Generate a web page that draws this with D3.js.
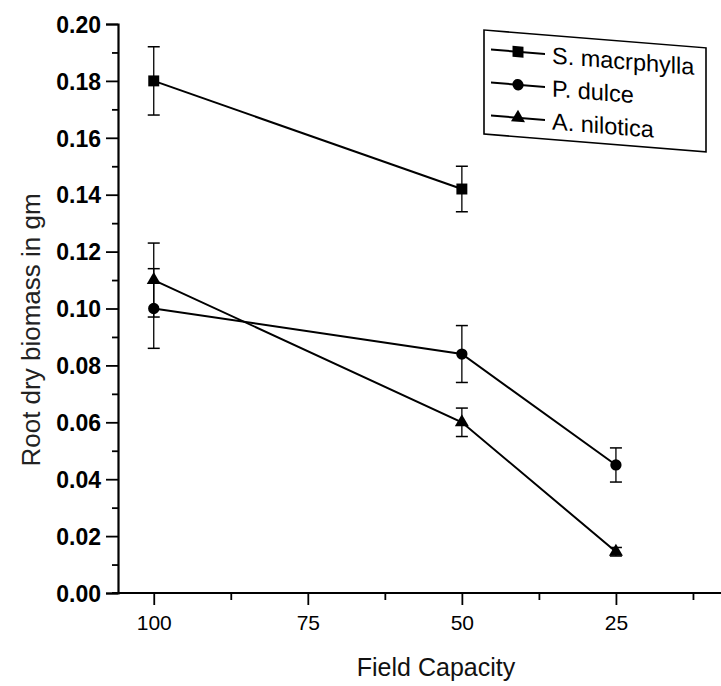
<!DOCTYPE html>
<html>
<head>
<meta charset="utf-8">
<script src="https://cdn.jsdelivr.net/npm/d3@7"></script>
<style>
  html, body { margin: 0; padding: 0; background: #fff; }
  svg { display: block; font-family: "Liberation Sans", Arial, sans-serif; }
</style>
</head>
<body>
<svg id="chart" width="721" height="686"></svg>
<script>
// ---- data ----
const fieldCapacity = [100, 50, 25];
const seriesNames = ["S. macrphylla", "P. dulce", "A. nilotica"];
const sMacrphylla = [0.180, 0.142];
const sMacrphyllaErr = [0.012, 0.008];
const pDulce = [0.100, 0.084, 0.045];
const pDulceErr = [0.014, 0.010, 0.006];
const aNilotica = [0.110, 0.060, 0.0145];
const aNiloticaErr = [0.013, 0.005, 0.0015];
const xTicks = [100, 75, 50, 25];
const xMinorTicks = [87.5, 62.5, 37.5, 12.5];
const yTicks = [0, 0.02, 0.04, 0.06, 0.08, 0.10, 0.12, 0.14, 0.16, 0.18, 0.20];
const yMinorTicks = [0.01, 0.03, 0.05, 0.07, 0.09, 0.11, 0.13, 0.15, 0.17, 0.19];
const xTitle = "Field Capacity";
const yTitle = "Root dry biomass in gm";

const svg = d3.select("#chart");

const x = d3.scaleLinear().domain([105.8, 7.95]).range([118, 721]);
const y = d3.scaleLinear().domain([0, 0.2]).range([593, 24]);

const series = [
  { name: seriesNames[0], vals: sMacrphylla, err: sMacrphyllaErr, sym: d3.symbolSquare, size: 120 },
  { name: seriesNames[1], vals: pDulce, err: pDulceErr, sym: d3.symbolCircle, size: 100 },
  { name: seriesNames[2], vals: aNilotica, err: aNiloticaErr, sym: d3.symbolTriangle, size: 85 }
];

// ---- axes ----
const yAxis = svg.append("g").attr("transform", `translate(${x(105.8)},0)`)
  .call(d3.axisLeft(y).tickValues(yTicks).tickFormat(d3.format(".2f")).tickSize(12).tickPadding(5));
svg.append("g").attr("transform", `translate(${x(105.8)},0)`)
  .call(d3.axisLeft(y).tickValues(yMinorTicks).tickFormat("").tickSize(6))
  .call(g => g.select(".domain").remove());

const xAxis = svg.append("g").attr("transform", `translate(0,${y(0)})`)
  .call(d3.axisBottom(x).tickValues(xTicks).tickFormat(d3.format("d")).tickSize(12).tickPadding(10));
svg.append("g").attr("transform", `translate(0,${y(0)})`)
  .call(d3.axisBottom(x).tickValues(xMinorTicks).tickFormat("").tickSize(7))
  .call(g => g.select(".domain").remove());

svg.selectAll(".domain").attr("stroke", "#000").attr("stroke-width", 2.2);
svg.selectAll(".tick line").attr("stroke", "#000").attr("stroke-width", 1.8);
yAxis.selectAll(".tick text").attr("font-size", 23).attr("fill", "#000")
  .attr("font-family", "Liberation Sans, Arial, sans-serif").attr("font-weight", "bold").attr("dy", "0.36em");
xAxis.selectAll(".tick text").attr("font-size", 21).attr("fill", "#000")
  .attr("font-family", "Liberation Sans, Arial, sans-serif");
xAxis.select(".domain").attr("d", `M${x(105.8) - 6},0H721`);

// axis titles
svg.append("text")
  .attr("x", 436).attr("y", 676)
  .attr("text-anchor", "middle").attr("font-size", 25).attr("fill", "#111")
  .text(xTitle);
svg.append("text")
  .attr("transform", "translate(40,330) rotate(-90)")
  .attr("text-anchor", "middle").attr("font-size", 26).attr("fill", "#222")
  .text(yTitle);

// ---- series ----
const plot = svg.append("g");
series.forEach(s => {
  const pts = s.vals.map((v, i) => ({ xv: fieldCapacity[i], v, e: s.err[i] }));
  plot.append("path")
    .datum(pts)
    .attr("fill", "none").attr("stroke", "#000").attr("stroke-width", 2)
    .attr("d", d3.line().x(d => x(d.xv)).y(d => y(d.v)));
  const eb = plot.append("g");
  pts.forEach(d => {
    const cx = x(d.xv);
    eb.append("line").attr("x1", cx).attr("x2", cx).attr("y1", y(d.v - d.e)).attr("y2", y(d.v + d.e))
      .attr("stroke", "#000").attr("stroke-width", 1.3);
    [d.v - d.e, d.v + d.e].forEach(c => {
      eb.append("line").attr("x1", cx - 6).attr("x2", cx + 6).attr("y1", y(c)).attr("y2", y(c))
        .attr("stroke", "#000").attr("stroke-width", 1.5);
    });
  });
  plot.selectAll(null).data(pts).enter().append("path")
    .attr("transform", d => `translate(${x(d.xv)},${y(d.v)})`)
    .attr("d", d3.symbol().type(s.sym).size(s.size))
    .attr("fill", "#000");
});

// ---- legend ----
const legend = svg.append("g").attr("transform", "translate(484,30) skewY(4.6)");
legend.append("rect").attr("x", 0).attr("y", 0).attr("width", 222).attr("height", 104)
  .attr("fill", "#fff").attr("stroke", "#000").attr("stroke-width", 1.6);
series.forEach((s, i) => {
  const ly = 19 + i * 33;
  legend.append("line").attr("x1", 7).attr("x2", 61).attr("y1", ly).attr("y2", ly)
    .attr("stroke", "#000").attr("stroke-width", 2);
  legend.append("path").attr("transform", `translate(34,${ly})`)
    .attr("d", d3.symbol().type(s.sym).size(s.size)).attr("fill", "#000");
  legend.append("text").attr("x", 68).attr("y", ly + 9).attr("font-size", 23.5).attr("fill", "#000")
    .text(s.name);
});
</script>
</body>
</html>
